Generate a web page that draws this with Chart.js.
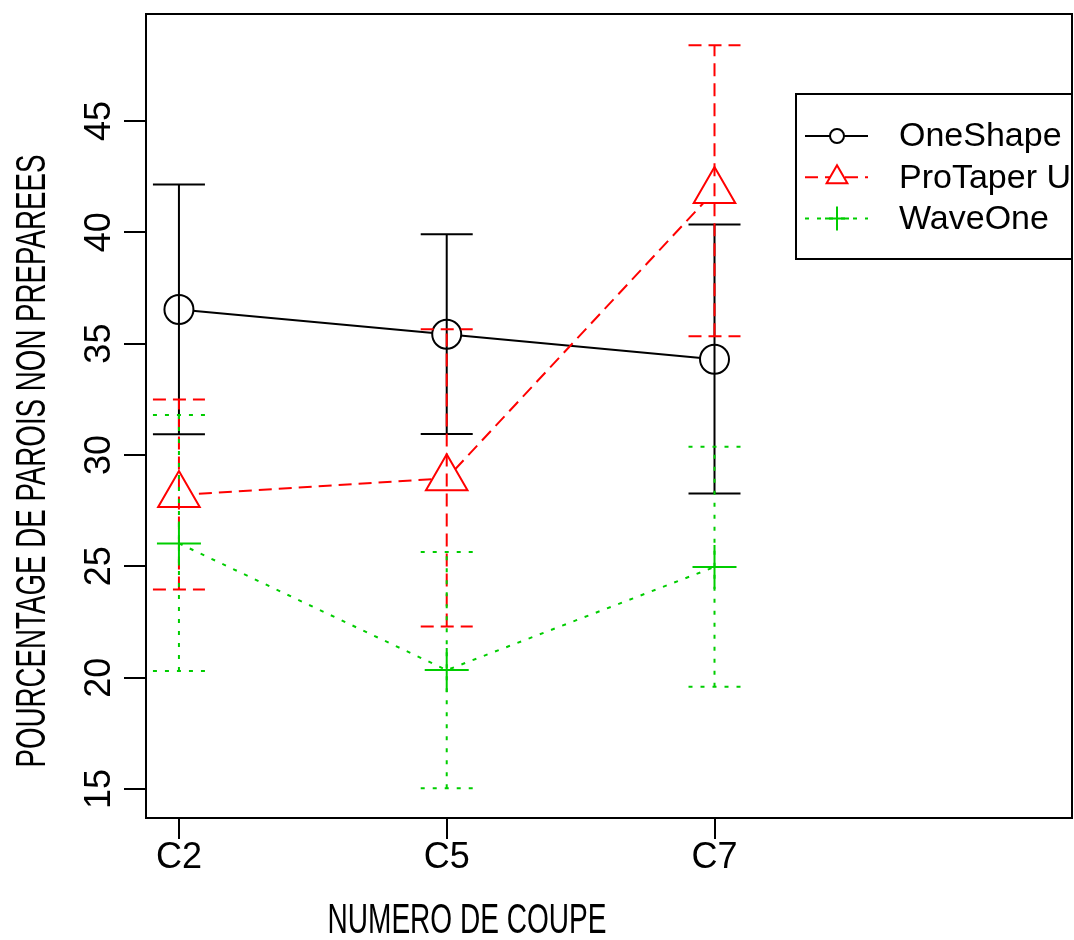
<!DOCTYPE html>
<html>
<head>
<meta charset="utf-8">
<script src="https://cdn.jsdelivr.net/npm/chart.js@4.4.1/dist/chart.umd.min.js"></script>
<style>
  html, body { margin: 0; padding: 0; background: #fff; }
  #chart { display: block; }
</style>
</head>
<body>
<canvas id="chart" width="1074" height="940"></canvas>
<script>
// data
const categories = ['C2', 'C5', 'C7'];
const xPositions = [1, 2, 3];
const yTicks = [15, 20, 25, 30, 35, 40, 45];

const oneShapeMean = [36.53, 35.42, 34.30];
const oneShapeLow = [30.93, 30.94, 28.27];
const oneShapeHigh = [42.15, 39.91, 40.35];

const proTaperMean = [28.20, 28.95, 41.85];
const proTaperLow = [23.96, 22.30, 35.33];
const proTaperHigh = [32.49, 35.64, 48.40];

const waveOneMean = [26.03, 20.34, 24.97];
const waveOneLow = [20.30, 15.04, 19.59];
const waveOneHigh = [31.79, 25.64, 30.37];

const FONT = "'Liberation Sans', Arial, Helvetica, sans-serif";
const CAP = 26; // half width of error bar caps, px

function pts(means) {
  return xPositions.map((x, i) => ({ x, y: means[i] }));
}

function series(label, means, low, high, color, dash, style, radius, legendRadius, order) {
  return {
    label, data: pts(means), low, high, order,
    borderColor: color, borderWidth: 2, borderDash: dash,
    pointStyle: style, pointRadius: radius, pointHoverRadius: radius,
    pointBorderColor: color, pointBorderWidth: 2, pointBackgroundColor: '#fff',
    legendRadius, tension: 0, fill: false
  };
}

function noPadding(scale) {
  scale.paddingTop = 0;
  scale.paddingBottom = 0;
  scale.paddingLeft = 0;
  scale.paddingRight = 0;
}

const errorBars = {
  id: 'errorBars',
  afterDatasetDraw(chart, args) {
    const ds = chart.data.datasets[args.index];
    const { ctx, chartArea, scales: { x, y } } = chart;
    ctx.save();
    ctx.beginPath();
    ctx.rect(chartArea.left, chartArea.top, chartArea.width, chartArea.height);
    ctx.clip();
    ctx.strokeStyle = ds.borderColor;
    ctx.lineWidth = ds.borderWidth;
    ctx.setLineDash(ds.borderDash);
    ds.data.forEach((p, i) => {
      const px = x.getPixelForValue(p.x);
      const top = y.getPixelForValue(ds.high[i]);
      const bot = y.getPixelForValue(ds.low[i]);
      ctx.beginPath();
      ctx.moveTo(px, bot); ctx.lineTo(px, top);
      ctx.moveTo(px - CAP, top); ctx.lineTo(px + CAP, top);
      ctx.moveTo(px - CAP, bot); ctx.lineTo(px + CAP, bot);
      ctx.stroke();
    });
    ctx.restore();
  }
};

function squeezedText(ctx, text, cx, cy, rot, size, width) {
  ctx.save();
  ctx.translate(cx, cy);
  ctx.rotate(rot);
  ctx.font = `${size}px ${FONT}`;
  const w = ctx.measureText(text).width;
  ctx.scale(width / w, 1);
  ctx.fillStyle = '#000';
  ctx.textAlign = 'center';
  ctx.textBaseline = 'middle';
  ctx.fillText(text, 0, 0);
  ctx.restore();
}

const frameAndLegend = {
  id: 'frameAndLegend',
  afterDraw(chart) {
    const { ctx, chartArea: a } = chart;

    // legend box, cut off by the plot frame on the right
    ctx.save();
    ctx.beginPath();
    ctx.rect(a.left, a.top, a.width, a.height);
    ctx.clip();
    const lx = a.left + 650, ly = a.top + 80, lh = 165;
    ctx.fillStyle = '#fff';
    ctx.fillRect(lx, ly, 400, lh);
    ctx.strokeStyle = '#000';
    ctx.lineWidth = 2;
    ctx.strokeRect(lx, ly, 400, lh);
    chart.data.datasets.forEach((ds, i) => {
      const ry = ly + 42 + i * 41.3;
      ctx.strokeStyle = ds.borderColor;
      ctx.lineWidth = 2;
      ctx.setLineDash(ds.borderDash);
      ctx.beginPath();
      ctx.moveTo(lx + 9, ry); ctx.lineTo(lx + 72, ry);
      ctx.stroke();
      ctx.setLineDash([]);
      ctx.fillStyle = '#fff';
      Chart.helpers.drawPoint(ctx, { pointStyle: ds.pointStyle, radius: ds.legendRadius, borderWidth: 2, rotation: 0 }, lx + 41, ry);
      ctx.fillStyle = '#000';
      ctx.font = `34px ${FONT}`;
      ctx.textAlign = 'left';
      ctx.textBaseline = 'middle';
      ctx.fillText(ds.label, lx + 103, ry + 1);
    });
    ctx.restore();

    // plot frame
    ctx.save();
    ctx.strokeStyle = '#000';
    ctx.lineWidth = 2;
    ctx.strokeRect(a.left, a.top, a.width, a.height);
    ctx.restore();

    // axis titles
    squeezedText(ctx, 'NUMERO DE COUPE', 467, 921, 0, 42, 279);
    squeezedText(ctx, 'POURCENTAGE DE PAROIS NON PREPAREES', 33, 461, -Math.PI / 2, 42, 613);
  }
};

new Chart(document.getElementById('chart'), {
  type: 'line',
  data: {
    datasets: [
      series('OneShape', oneShapeMean, oneShapeLow, oneShapeHigh, '#000000', [], 'circle', 14.5, 7, 3),
      series('ProTaper Universal', proTaperMean, proTaperLow, proTaperHigh, '#ff0000', [13, 7], 'triangle', 24, 12, 2),
      series('WaveOne', waveOneMean, waveOneLow, waveOneHigh, '#00cd00', [4, 8], 'cross', 22, 12, 1)
    ]
  },
  plugins: [errorBars, frameAndLegend],
  options: {
    responsive: false,
    animation: false,
    devicePixelRatio: 1,
    layout: { autoPadding: false, padding: { top: 14, right: 2, left: 0, bottom: 0 } },
    plugins: { legend: { display: false }, tooltip: { enabled: false } },
    scales: {
      x: {
        type: 'linear',
        min: 0.877,
        max: 4.335,
        afterFit(scale) { scale.height = 122; noPadding(scale); },
        afterBuildTicks(scale) { scale.ticks = xPositions.map(v => ({ value: v })); },
        grid: { drawOnChartArea: false, tickLength: 21, color: '#000', lineWidth: 2 },
        border: { display: true, color: '#000', width: 2 },
        ticks: {
          autoSkip: false,
          maxRotation: 0,
          padding: 1,
          color: '#000',
          font: { family: FONT, size: 36, lineHeight: 1 },
          callback: (v) => categories[xPositions.indexOf(v)]
        }
      },
      y: {
        type: 'linear',
        min: 13.70,
        max: 49.80,
        afterFit(scale) { scale.width = 146; noPadding(scale); },
        afterBuildTicks(scale) { scale.ticks = yTicks.map(v => ({ value: v })); },
        grid: { drawOnChartArea: false, tickLength: 22, color: '#000', lineWidth: 2 },
        border: { display: true, color: '#000', width: 2 },
        ticks: {
          autoSkip: false,
          minRotation: 90,
          maxRotation: 90,
          crossAlign: 'center',
          padding: 4,
          color: '#000',
          font: { family: FONT, size: 36, lineHeight: 1 }
        }
      }
    }
  }
});
</script>
</body>
</html>
